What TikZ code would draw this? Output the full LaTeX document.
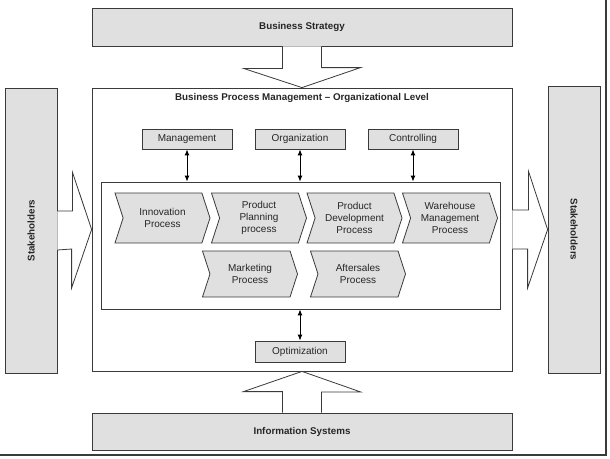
\documentclass[tikz,border=0pt]{standalone}
\usepackage{fontspec}
\setmainfont{Liberation Sans}
\usetikzlibrary{shapes.symbols,calc,arrows.meta}
\definecolor{boxgray}{HTML}{E0E0E0}
\definecolor{linegray}{HTML}{3A3A3A}
\begin{document}
\begin{tikzpicture}[x=1pt, y=-1pt, >={Latex[length=6pt,width=5pt]},
  every node/.style={font=\fontsize{10}{12}\selectfont, text=black!85},
  graybox/.style={draw=linegray, line width=0.8pt, fill=boxgray, inner sep=0pt},
  boldtext/.style={font=\fontsize{9.8}{12}\selectfont\bfseries},
  unitbox/.style={graybox, minimum width=90, minimum height=20},
  chev/.style={signal, signal from=west, signal to=east, signal pointer angle=144,
    draw=linegray, line width=0.8pt, fill=boxgray, inner sep=0pt,
    minimum width=95, minimum height=50, align=center},
  blockarrow/.style={draw=linegray, line width=0.8pt, fill=white}]
\useasboundingbox (0,0) rectangle (610,458);
% caixas externas
\node[graybox, boldtext, minimum width=420, minimum height=38] (strat) at (302,27) {Business Strategy};
\node[graybox, boldtext, minimum width=420, minimum height=37] (info) at (302,431.5) {Information Systems};
\node[draw=linegray, line width=0.8pt, minimum width=420, minimum height=283] (bpm) at (302,229.5) {};
\node[boldtext] (title) at (302,98) {Business Process Management -- Organizational Level};
\node[graybox, boldtext, minimum width=52, minimum height=285] (sl) at (31,230.5) {\rotatebox{90}{Stakeholders}};
\node[graybox, boldtext, minimum width=52, minimum height=287] (sr) at (574,229.5) {\rotatebox{-90}{Stakeholders}};
% setas largas
\draw[blockarrow] ($(strat.south)+(-19.5,0)$) -- ++(0,22) -- ++(-39,0) -- (bpm.north)
  -- ++(58.5,-20) -- ++(-39,0) -- ($(strat.south)+(19.5,0)$);
\draw[blockarrow] ($(info.north)+(-19.5,0)$) -- ++(0,-21) -- ++(-39,0) -- (bpm.south)
  -- ++(58.5,20.5) -- ++(-39,0) -- ($(info.north)+(19.5,0)$);
\draw[blockarrow] ($(sl.east)+(0,-19.5)$) -- ++(15,0) -- ++(0,-39) -- (bpm.west)
  -- ++(-20,58.5) -- ++(0,-39) -- ($(sl.east)+(0,19.5)$);
\draw[blockarrow] ($(bpm.east)+(0,-19.5)$) -- ++(16,0) -- ++(0,-39) -- (sr.west)
  -- ++(-20,58.5) -- ++(0,-39) -- ($(bpm.east)+(0,19.5)$);
% funcoes
\node[unitbox] (mgmt) at (187,139) {Management};
\node[unitbox] (org) at (300,139) {Organization};
\node[unitbox] (ctrl) at (413,139) {Controlling};
\node[unitbox, minimum height=21] (opt) at (300,351.5) {Optimization};
% processos
\node[draw=linegray, line width=0.8pt, minimum width=399, minimum height=127] (inner) at (300.5,245.5) {};
\node[chev] (innov) at (162.5,218) {Innovation\\Process};
\node[chev] (plan) at (259,218) {Product\\Planning\\process};
\node[chev] (dev) at (354.5,218) {Product\\Development\\Process};
\node[chev] (ware) at (450,218) {Warehouse\\Management\\Process};
\node[chev, minimum height=46] (mkt) at (250,274) {Marketing\\Process};
\node[chev, minimum height=46] (after) at (358,274) {Aftersales\\Process};
\foreach \n in {mgmt,org,ctrl}
  \draw[<->, line width=1pt] (\n.south) -- (\n.south |- inner.north);
\draw[<->, line width=1pt] (opt.north) -- (opt.north |- inner.south);
% moldura
\draw[linegray, line width=1.2pt] (606,0) -- (606,455) -- (0,455);
\end{tikzpicture}
\end{document}
